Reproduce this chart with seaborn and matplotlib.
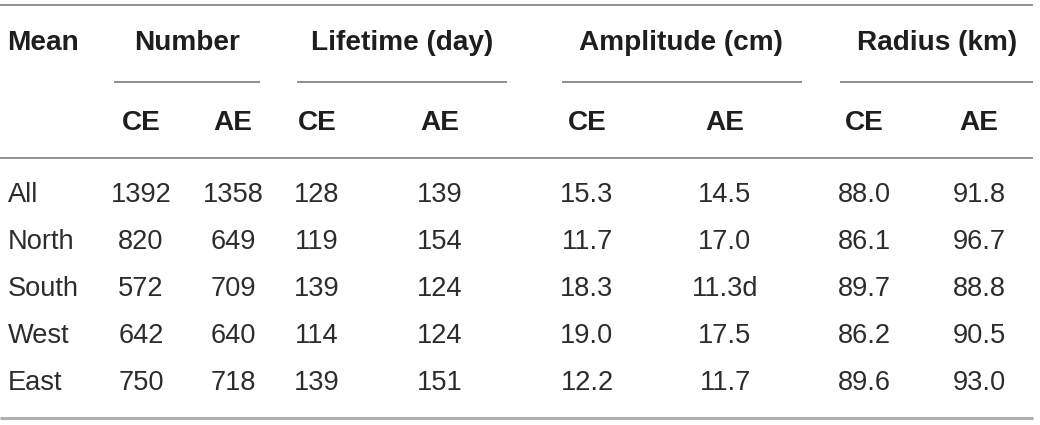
import matplotlib
matplotlib.use("Agg")
import matplotlib.pyplot as plt
import seaborn as sns

# ---- data ----
row_labels = ["All", "North", "South", "West", "East"]
number_ce = ["1392", "820", "572", "642", "750"]
number_ae = ["1358", "649", "709", "640", "718"]
lifetime_ce = ["128", "119", "139", "114", "139"]
lifetime_ae = ["139", "154", "124", "124", "151"]
amplitude_ce = ["15.3", "11.7", "18.3", "19.0", "12.2"]
amplitude_ae = ["14.5", "17.0", "11.3d", "17.5", "11.7"]
radius_ce = ["88.0", "86.1", "89.7", "86.2", "89.6"]
radius_ae = ["91.8", "96.7", "88.8", "90.5", "93.0"]

corner_label = "Mean"
group_labels = ["Number", "Lifetime (day)", "Amplitude (cm)", "Radius (km)"]
sub_labels = ["CE", "AE"]

# ---- layout (pixel-like coordinates) ----
sns.set_theme(style="white")
plt.rcParams["font.family"] = ["Liberation Sans", "DejaVu Sans"]

W, H = 1040, 425
fig = plt.figure(figsize=(W / 100, H / 100), dpi=100)
ax = fig.add_axes([0, 0, 1, 1])
ax.set_xlim(0, W)
ax.set_ylim(H, 0)
ax.axis("off")

fs_body = 19.6
fs_head = 20.2
txt = "#1e1e1e"
body_col = "#2c2c2c"

group_centers = [187, 402, 681, 937]
group_spans = [(114, 260), (297, 507), (562, 802), (840, 1033)]
col_centers = [141, 233, 317, 440, 587, 725, 864, 979]

y_head1, y_line, y_head2 = 43, 82, 123
y_rows = [195, 242, 289, 336, 383]

# rules
ax.hlines(5, 0, 1033, color="#8a8a8a", lw=1.3)
ax.hlines(158, 0, 1033, color="#8a8a8a", lw=1.3)
ax.hlines(417.5, 0, 1033, color="#b0b0b0", lw=2.2)
for (x0, x1) in group_spans:
    ax.hlines(y_line, x0, x1, color="#7a7a7a", lw=1.2)

# header
ax.text(7, y_head1, corner_label, ha="left", va="center", fontsize=fs_head,
        fontweight="bold", color=txt)
for gl, gc in zip(group_labels, group_centers):
    ax.text(gc, y_head1, gl, ha="center", va="center", fontsize=fs_head,
            fontweight="bold", color=txt)
for i, cx in enumerate(col_centers):
    ax.text(cx, y_head2, sub_labels[i % 2], ha="center", va="center",
            fontsize=fs_head, fontweight="bold", color=txt)

# body
columns = [number_ce, number_ae, lifetime_ce, lifetime_ae,
           amplitude_ce, amplitude_ae, radius_ce, radius_ae]
for r, y in enumerate(y_rows):
    ax.text(8, y, row_labels[r], ha="left", va="center", fontsize=fs_body,
            color=body_col)
    for col, cx in zip(columns, col_centers):
        ax.text(cx, y, col[r], ha="center", va="center", fontsize=fs_body,
                color=body_col)

fig.savefig("out.png", dpi=100, facecolor="white")
